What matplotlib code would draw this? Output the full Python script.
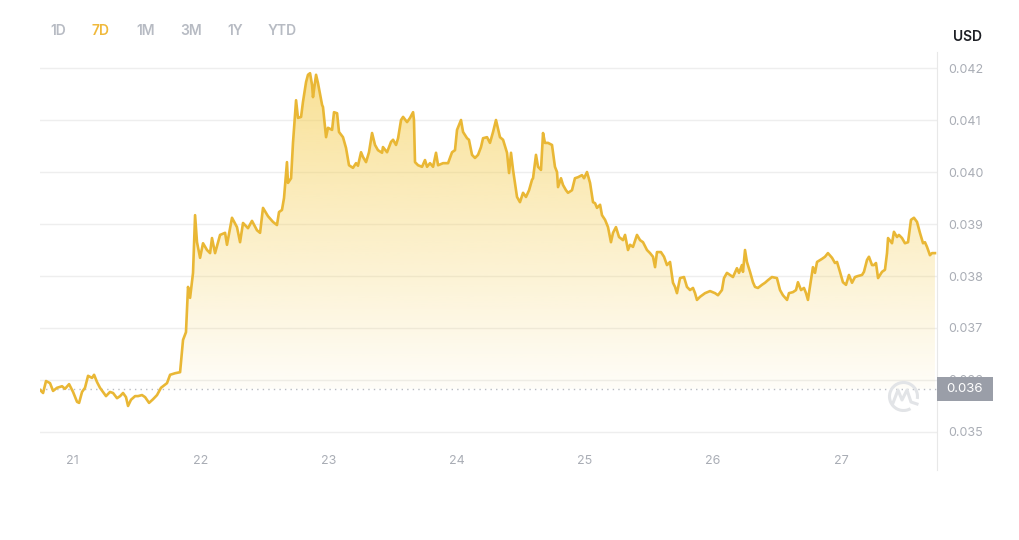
import matplotlib.pyplot as plt
import numpy as np
from matplotlib.path import Path
from matplotlib.patches import Arc, Rectangle
from matplotlib.lines import Line2D

plt.rcParams['font.family'] = ['Inter', 'DejaVu Sans']

# day of month (fractional) and price in USD
days = [
    20.750, 20.774, 20.797, 20.828, 20.852, 20.883, 20.922, 20.945, 20.977, 21.008,
    21.039, 21.055, 21.078, 21.101, 21.125, 21.156, 21.172, 21.195, 21.218, 21.242,
    21.265, 21.296, 21.320, 21.351, 21.375, 21.398, 21.421, 21.437, 21.460, 21.492,
    21.515, 21.546, 21.570, 21.601, 21.632, 21.663, 21.694, 21.710, 21.741, 21.765,
    21.804, 21.843, 21.866, 21.889, 21.905, 21.921, 21.944, 21.960, 21.975, 21.999,
    22.022, 22.053, 22.077, 22.092, 22.116, 22.155, 22.194, 22.209, 22.248, 22.287,
    22.311, 22.334, 22.373, 22.404, 22.443, 22.467, 22.490, 22.529, 22.568, 22.599,
    22.615, 22.638, 22.654, 22.677, 22.685, 22.709, 22.724, 22.748, 22.763, 22.787,
    22.802, 22.826, 22.841, 22.857, 22.873, 22.880, 22.904, 22.919, 22.951, 22.958,
    22.982, 22.997, 23.029, 23.044, 23.068, 23.083, 23.114, 23.138, 23.161, 23.192,
    23.216, 23.231, 23.255, 23.270, 23.294, 23.317, 23.341, 23.364, 23.387, 23.419,
    23.426, 23.458, 23.489, 23.505, 23.528, 23.544, 23.567, 23.583, 23.614, 23.637,
    23.661, 23.668, 23.676, 23.700, 23.731, 23.754, 23.770, 23.793, 23.817, 23.840,
    23.856, 23.895, 23.934, 23.965, 23.988, 24.004, 24.035, 24.051, 24.082, 24.097,
    24.121, 24.144, 24.168, 24.191, 24.207, 24.238, 24.261, 24.285, 24.308, 24.339,
    24.363, 24.394, 24.410, 24.425, 24.441, 24.472, 24.495, 24.519, 24.542, 24.566,
    24.589, 24.597, 24.620, 24.636, 24.659, 24.675, 24.690, 24.714, 24.745, 24.768,
    24.784, 24.792, 24.815, 24.831, 24.854, 24.870, 24.901, 24.924, 24.948, 24.979,
    24.995, 25.018, 25.042, 25.065, 25.081, 25.096, 25.120, 25.135, 25.159, 25.182,
    25.205, 25.221, 25.244, 25.268, 25.299, 25.315, 25.338, 25.354, 25.377, 25.408,
    25.432, 25.455, 25.486, 25.510, 25.533, 25.549, 25.564, 25.595, 25.619, 25.642,
    25.666, 25.689, 25.705, 25.720, 25.744, 25.775, 25.798, 25.822, 25.845, 25.861,
    25.876, 25.900, 25.939, 25.978, 26.017, 26.040, 26.071, 26.087, 26.110, 26.134,
    26.157, 26.188, 26.204, 26.227, 26.235, 26.251, 26.266, 26.290, 26.313, 26.329,
    26.352, 26.383, 26.407, 26.430, 26.461, 26.500, 26.524, 26.547, 26.579, 26.594,
    26.625, 26.649, 26.664, 26.688, 26.711, 26.727, 26.742, 26.766, 26.781, 26.797,
    26.813, 26.852, 26.875, 26.898, 26.930, 26.953, 26.969, 26.992, 27.015, 27.039,
    27.062, 27.086, 27.109, 27.133, 27.164, 27.179, 27.203, 27.218, 27.242, 27.257,
    27.273, 27.289, 27.320, 27.343, 27.359, 27.367, 27.398, 27.413, 27.437, 27.452,
    27.476, 27.499, 27.523, 27.546, 27.569, 27.593, 27.616, 27.640, 27.655, 27.671,
    27.694, 27.710, 27.733,
]

prices = [
    0.03581, 0.03575, 0.03598, 0.03594, 0.03579, 0.03585, 0.03588, 0.03583, 0.03592, 0.03577,
    0.03558, 0.03556, 0.03577, 0.03585, 0.03608, 0.03604, 0.03610, 0.03596, 0.03585, 0.03577,
    0.03569, 0.03577, 0.03575, 0.03565, 0.03569, 0.03575, 0.03567, 0.03550, 0.03562, 0.03569,
    0.03569, 0.03571, 0.03567, 0.03556, 0.03563, 0.03571, 0.03585, 0.03588, 0.03594, 0.03610,
    0.03613, 0.03615, 0.03677, 0.03692, 0.03779, 0.03758, 0.03806, 0.03917, 0.03865, 0.03835,
    0.03863, 0.03850, 0.03844, 0.03873, 0.03844, 0.03879, 0.03883, 0.03860, 0.03912, 0.03894,
    0.03865, 0.03902, 0.03892, 0.03906, 0.03888, 0.03883, 0.03931, 0.03915, 0.03904, 0.03898,
    0.03923, 0.03927, 0.03950, 0.04019, 0.03979, 0.03988, 0.04056, 0.04138, 0.04104, 0.04106,
    0.04135, 0.04173, 0.04187, 0.04190, 0.04167, 0.04144, 0.04187, 0.04171, 0.04129, 0.04125,
    0.04067, 0.04085, 0.04081, 0.04115, 0.04113, 0.04077, 0.04067, 0.04046, 0.04013, 0.04008,
    0.04017, 0.04012, 0.04038, 0.04029, 0.04019, 0.04038, 0.04075, 0.04052, 0.04042, 0.04037,
    0.04048, 0.04038, 0.04058, 0.04062, 0.04052, 0.04065, 0.04100, 0.04106, 0.04096, 0.04104,
    0.04115, 0.04100, 0.04019, 0.04013, 0.04010, 0.04023, 0.04010, 0.04017, 0.04010, 0.04037,
    0.04013, 0.04017, 0.04017, 0.04038, 0.04042, 0.04081, 0.04100, 0.04077, 0.04065, 0.04062,
    0.04033, 0.04027, 0.04033, 0.04048, 0.04065, 0.04067, 0.04056, 0.04077, 0.04100, 0.04067,
    0.04062, 0.04037, 0.03998, 0.04037, 0.04004, 0.03952, 0.03942, 0.03960, 0.03952, 0.03965,
    0.03985, 0.03988, 0.04033, 0.04010, 0.04004, 0.04075, 0.04056, 0.04056, 0.04052, 0.04010,
    0.04000, 0.03971, 0.03988, 0.03975, 0.03965, 0.03960, 0.03965, 0.03988, 0.03990, 0.03994,
    0.03988, 0.04000, 0.03979, 0.03942, 0.03940, 0.03931, 0.03937, 0.03917, 0.03908, 0.03894,
    0.03865, 0.03883, 0.03894, 0.03875, 0.03869, 0.03879, 0.03850, 0.03860, 0.03856, 0.03879,
    0.03869, 0.03865, 0.03850, 0.03844, 0.03837, 0.03817, 0.03846, 0.03846, 0.03837, 0.03821,
    0.03827, 0.03787, 0.03779, 0.03767, 0.03796, 0.03798, 0.03779, 0.03773, 0.03777, 0.03767,
    0.03754, 0.03760, 0.03767, 0.03771, 0.03767, 0.03763, 0.03773, 0.03796, 0.03806, 0.03802,
    0.03798, 0.03815, 0.03806, 0.03821, 0.03808, 0.03850, 0.03827, 0.03808, 0.03788, 0.03779,
    0.03777, 0.03783, 0.03787, 0.03792, 0.03798, 0.03796, 0.03773, 0.03763, 0.03754, 0.03767,
    0.03769, 0.03773, 0.03788, 0.03773, 0.03777, 0.03767, 0.03754, 0.03792, 0.03817, 0.03806,
    0.03827, 0.03833, 0.03837, 0.03844, 0.03835, 0.03825, 0.03827, 0.03808, 0.03788, 0.03783,
    0.03802, 0.03787, 0.03798, 0.03800, 0.03802, 0.03808, 0.03831, 0.03837, 0.03821, 0.03821,
    0.03825, 0.03796, 0.03808, 0.03812, 0.03844, 0.03873, 0.03863, 0.03885, 0.03875, 0.03879,
    0.03873, 0.03863, 0.03865, 0.03908, 0.03912, 0.03904, 0.03883, 0.03863, 0.03865, 0.03856,
    0.03840, 0.03844, 0.03844,
]

base_price = 0.03583
y_ticks = [0.035, 0.036, 0.037, 0.038, 0.039, 0.040, 0.041, 0.042]
x_ticks = [21, 22, 23, 24, 25, 26, 27]
ranges = ["1D", "7D", "1M", "3M", "1Y", "YTD"]
active_range = "7D"

days = np.array(days)
prices = np.array(prices)

gold = '#e9b735'
grey_txt = '#a9adb5'

fig = plt.figure(figsize=(10.2, 5.4), dpi=100)
ax = fig.add_axes([40 / 1020, 1 - 470 / 540, 897 / 1020, 418 / 540])
x0, x1 = 20.75, 27.749
y0, y1 = 0.034269, 0.042308

# gradient fill between the line and the opening price
poly = ax.fill_between(days, prices, base_price, where=prices >= base_price,
                       interpolate=True, facecolor='none', edgecolor='none')
clip = Path.make_compound_path(*poly.get_paths())
grad = np.zeros((256, 1, 4))
grad[:, :, :3] = (245 / 255, 205 / 255, 80 / 255)
grad[:, 0, 3] = np.linspace(0.6, 0.04, 256)
im = ax.imshow(grad, extent=[x0, x1, base_price, prices.max()], aspect='auto',
               origin='upper', zorder=2, interpolation='bicubic')
im.set_clip_path(clip, transform=ax.transData)

ax.plot(days, prices, color=gold, lw=1.9, zorder=4, solid_joinstyle='round')
ax.axhline(base_price, color='#b9bcc2', lw=1, ls=(0, (1, 3)), zorder=3)

ax.set_xlim(x0, x1)
ax.set_ylim(y0, y1)
ax.set_axisbelow(True)
ax.grid(axis='y', color='#eeeeee', lw=1)

ax.set_yticks(y_ticks)
ax.set_yticklabels([f'{v:.3f}' for v in y_ticks])
ax.yaxis.tick_right()
ax.tick_params(axis='y', length=0, pad=8, labelsize=9, labelcolor=grey_txt)

ax.set_xticks(x_ticks)
ax.set_xticklabels([str(d) for d in x_ticks])
ax.tick_params(axis='x', length=0, pad=-10.5, labelsize=9, labelcolor=grey_txt)

for s in ['top', 'left', 'bottom']:
    ax.spines[s].set_visible(False)
ax.spines['right'].set_color('#e8e8e8')

# current price badge
bw, bh = 56 / 897, 24 / 52000
badge = Rectangle((1.0, base_price - bh / 2), bw, bh, transform=ax.get_yaxis_transform(),
                  facecolor='#9a9ea8', edgecolor='none', clip_on=False, zorder=10)
ax.add_patch(badge)
ax.text(1.0 + bw / 2, base_price, f'{round(base_price, 3):.3f}', transform=ax.get_yaxis_transform(),
        ha='center', va='center', color='white', fontsize=9.5, zorder=11, clip_on=False)

# watermark logo
tr = fig.dpi_scale_trans
fig.add_artist(Arc((9.035, 1.435), 0.28, 0.28, theta1=-10, theta2=300, transform=tr,
                   color='#e2e4e7', lw=2.2))
lx = [893, 898, 902, 907, 911, 917]
ly = [403, 390, 400, 390, 402, 404]
fig.add_artist(Line2D([v / 100 for v in lx], [(540 - v) / 100 for v in ly], transform=tr,
                      color='#e2e4e7', lw=2.2, solid_joinstyle='round'))

# top texts
fig.text(968 / 1020, 1 - 37 / 540, 'USD', ha='center', va='center', fontsize=10,
         fontweight='semibold', color='#1e2026')
for lab, px in zip(ranges, [58, 101, 146, 191, 235, 282]):
    fig.text(px / 1020, 1 - 31 / 540, lab, ha='center', va='center', fontsize=10,
             fontweight='semibold', color='#f0b93b' if lab == active_range else '#b7bbc3')

fig.savefig('out.png', dpi=100)
